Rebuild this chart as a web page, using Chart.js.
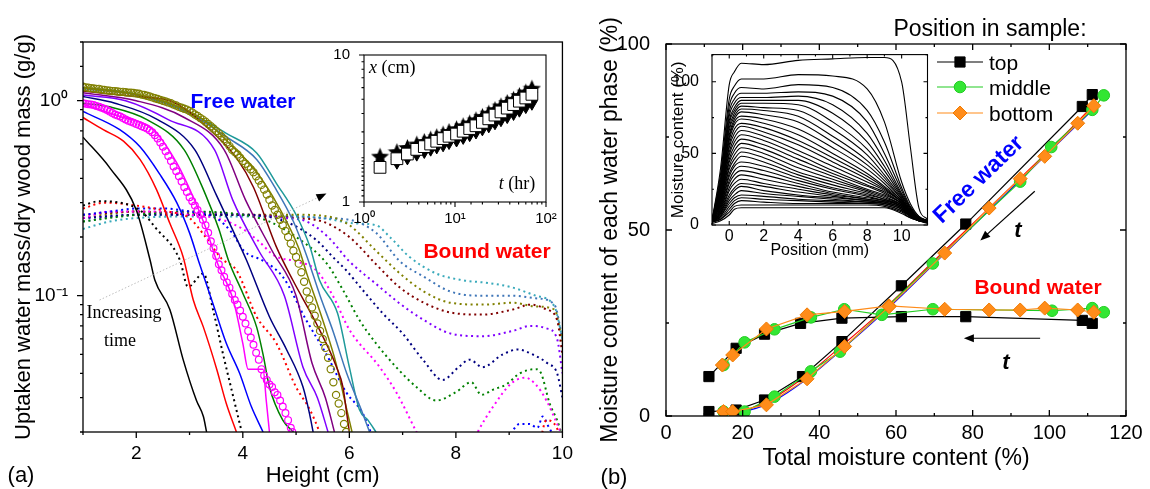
<!DOCTYPE html>
<html>
<head>
<meta charset="utf-8">
<script src="https://cdn.jsdelivr.net/npm/chart.js@4.4.0/dist/chart.umd.min.js"></script>
<style>
  body { margin: 0; background: #fff; width: 1150px; height: 489px; position: relative; overflow: hidden;
         font-family: "Liberation Sans", Arial, sans-serif; }
  canvas { position: absolute; }
  .lbl { position: absolute; white-space: nowrap; line-height: 1; transform: translate(-50%, -50%); }
  .left { transform: translate(0, -50%); }
  .serif { font-family: "Liberation Serif", "Times New Roman", serif; }
</style>
</head>
<body>
<canvas id="chartA" width="575" height="489" style="left:0;top:0"></canvas>
<canvas id="chartB" width="570" height="489" style="left:580px;top:0"></canvas>
<canvas id="insetA" width="230" height="190" style="left:330px;top:40px"></canvas>
<canvas id="insetB" width="280" height="230" style="left:660px;top:40px"></canvas>

<!-- panel (a) annotations -->
<div class="lbl" style="left:243px;top:100px;font-size:21px;font-weight:bold;color:#0000ff">Free water</div>
<div class="lbl" style="left:487px;top:250px;font-size:21px;font-weight:bold;color:#ff0000">Bound water</div>
<div class="lbl serif" style="left:124px;top:312px;font-size:18px">Increasing</div>
<div class="lbl serif" style="left:120px;top:340px;font-size:18px">time</div>
<div class="lbl" style="left:21px;top:475px;font-size:22px">(a)</div>
<div class="lbl left serif" style="left:369px;top:67px;font-size:18px"><i>x</i> (cm)</div>
<div class="lbl serif" style="left:517px;top:183px;font-size:18px"><i>t</i> (hr)</div>

<!-- panel (b) annotations -->
<div class="lbl" style="left:614px;top:477px;font-size:22px">(b)</div>
<div class="lbl" style="left:990px;top:28px;font-size:23px">Position in sample:</div>
<div class="lbl left" style="left:989px;top:62px;font-size:21px">top</div>
<div class="lbl left" style="left:989px;top:87px;font-size:21px">middle</div>
<div class="lbl left" style="left:989px;top:113px;font-size:21px">bottom</div>
<div class="lbl" style="left:978px;top:179px;font-size:23px;font-weight:bold;color:#0000ff;transform:translate(-50%,-50%) rotate(-44deg)">Free water</div>
<div class="lbl" style="left:1038px;top:286px;font-size:21px;font-weight:bold;color:#ff0000">Bound water</div>
<div class="lbl" style="left:1018px;top:230px;font-size:22px;font-weight:bold;font-style:italic">t</div>
<div class="lbl" style="left:1006px;top:362px;font-size:22px;font-weight:bold;font-style:italic">t</div>

<script>
// ---------- panel (a): free water (solid) ----------
const aFreeBlack   = [[1,0.65],[1.51,0.45],[2.0,0.275],[2.26,0.152],[2.35,0.12],[2.63,0.085],[2.88,0.047],[3.13,0.029],[3.26,0.024],[3.32,0.02]];
const aFreeRed     = [[1,0.82],[1.38,0.71],[1.76,0.62],[2.07,0.5],[2.38,0.35],[2.63,0.235],[2.88,0.158],[3.07,0.095],[3.26,0.069],[3.51,0.042],[3.69,0.028],[3.88,0.02]];
const aFreeBlue    = [[1,0.88],[1.69,0.71],[2.07,0.58],[2.44,0.42],[2.76,0.3],[3.0,0.21],[3.19,0.145],[3.44,0.091],[3.69,0.057],[3.94,0.04],[4.16,0.027],[4.38,0.02]];
const aFreeMagenta = [[1,0.96],[1.69,0.83],[2.32,0.71],[2.76,0.48],[3.07,0.32],[3.32,0.217],[3.51,0.15],[3.82,0.095],[4.0,0.057],[4.1,0.042],[4.38,0.042],[4.44,0.029],[4.5,0.02]];
const aFreeGreen   = [[1,0.97],[1.5,0.93],[2.2,0.8],[2.9,0.56],[3.3,0.33],[3.55,0.22],[3.73,0.152],[4.0,0.103],[4.26,0.069],[4.38,0.05],[4.5,0.034],[4.75,0.023],[4.95,0.02]];
const aFreeNavy    = [[1,1.05],[1.6,0.97],[2.4,0.8],[3.1,0.56],[3.5,0.33],[3.8,0.22],[4.07,0.152],[4.5,0.078],[4.82,0.053],[5.13,0.034],[5.25,0.025],[5.32,0.02]];
const aFreeViolet  = [[1,1.07],[1.8,1.0],[2.6,0.8],[3.47,0.56],[3.81,0.31],[4.3,0.17],[4.78,0.1],[5.13,0.043],[5.4,0.03],[5.6,0.02]];
const aFreePurple  = [[1,1.1],[2,1.0],[2.9,0.82],[3.65,0.56],[4.05,0.31],[4.55,0.17],[5.0,0.1],[5.3,0.045],[5.55,0.03],[5.72,0.02]];
const aFreeWine    = [[1,1.12],[2,1.05],[2.63,1.0],[3.38,0.71],[3.9,0.5],[4.2,0.36],[4.63,0.178],[4.94,0.12],[5.38,0.072],[5.76,0.043],[5.88,0.034],[5.95,0.025],[6.0,0.02]];
const aFreeOlive   = [[1,1.17],[2.0,1.08],[2.63,0.97],[3.26,0.8],[3.76,0.6],[4.26,0.43],[4.66,0.29],[5.05,0.175],[5.2,0.13],[5.5,0.075],[5.75,0.045],[5.9,0.03],[6.05,0.02]];
const aFreeRoyal   = [[1,1.15],[2,1.07],[3,0.86],[3.7,0.65],[4.26,0.5],[4.6,0.36],[4.95,0.24],[5.2,0.16],[5.45,0.1],[5.7,0.065],[5.95,0.04],[6.2,0.027],[6.38,0.02]];
const aFreeTeal    = [[1,1.17],[2,1.08],[3,0.87],[3.69,0.68],[4.26,0.54],[4.63,0.377],[5.0,0.26],[5.26,0.178],[5.44,0.12],[5.78,0.081],[6.0,0.043],[6.19,0.026],[6.35,0.023],[6.5,0.02]];

const aCircMagenta = [[1.00,0.97],[1.05,0.965],[1.10,0.96],[1.15,0.955],[1.20,0.95],[1.25,0.94],[1.30,0.93],[1.35,0.92],[1.40,0.91],[1.45,0.895],[1.50,0.88],[1.55,0.865],[1.60,0.85],[1.65,0.84],[1.70,0.83],[1.75,0.815],[1.80,0.80],[1.85,0.79],[1.90,0.78],[1.95,0.77],[2.00,0.76],[2.05,0.75],[2.10,0.74],[2.15,0.73],[2.20,0.72],[2.25,0.705],[2.30,0.69],[2.35,0.665],[2.40,0.64],[2.45,0.61],[2.50,0.58],[2.55,0.55],[2.60,0.52],[2.65,0.49],[2.70,0.46],[2.75,0.435],[2.80,0.41],[2.85,0.385],[2.90,0.36],[2.95,0.34],[3.00,0.32],[3.05,0.305],[3.10,0.29],[3.15,0.275],[3.20,0.26],[3.25,0.245],[3.30,0.23],[3.35,0.21],[3.40,0.19],[3.45,0.175],[3.50,0.16],[3.55,0.145],[3.60,0.135],[3.65,0.125],[3.70,0.117],[3.75,0.11],[3.80,0.102],[3.85,0.095],[3.90,0.09],[3.95,0.084],[4.00,0.078],[4.05,0.072],[4.10,0.066],[4.15,0.061],[4.20,0.056],[4.25,0.051],[4.30,0.047],[4.35,0.042],[4.40,0.039],[4.45,0.037],[4.50,0.035],[4.55,0.034],[4.60,0.032],[4.65,0.031],[4.70,0.029],[4.75,0.027],[4.80,0.025],[4.85,0.023],[4.90,0.021],[4.93,0.02]];
const aCircOlive   = [[1.00,1.18],[1.05,1.17],[1.10,1.165],[1.15,1.16],[1.20,1.155],[1.25,1.15],[1.30,1.15],[1.35,1.14],[1.40,1.135],[1.45,1.13],[1.50,1.125],[1.55,1.12],[1.60,1.12],[1.65,1.115],[1.70,1.11],[1.75,1.11],[1.80,1.105],[1.85,1.10],[1.90,1.10],[1.95,1.095],[2.00,1.09],[2.05,1.085],[2.10,1.075],[2.15,1.07],[2.20,1.06],[2.25,1.05],[2.30,1.04],[2.35,1.03],[2.40,1.02],[2.45,1.01],[2.50,1.0],[2.55,0.99],[2.60,0.98],[2.65,0.97],[2.70,0.955],[2.75,0.945],[2.80,0.93],[2.85,0.92],[2.90,0.91],[2.95,0.90],[3.00,0.885],[3.05,0.87],[3.10,0.85],[3.15,0.835],[3.20,0.815],[3.25,0.80],[3.30,0.78],[3.35,0.76],[3.40,0.74],[3.45,0.72],[3.50,0.70],[3.55,0.68],[3.60,0.655],[3.65,0.635],[3.70,0.61],[3.75,0.585],[3.80,0.56],[3.85,0.545],[3.90,0.53],[3.95,0.51],[4.00,0.49],[4.05,0.475],[4.10,0.46],[4.15,0.445],[4.20,0.43],[4.25,0.41],[4.30,0.39],[4.35,0.37],[4.40,0.35],[4.45,0.33],[4.50,0.31],[4.55,0.29],[4.60,0.275],[4.65,0.26],[4.70,0.245],[4.75,0.23],[4.80,0.215],[4.85,0.2],[4.90,0.185],[4.95,0.17],[5.00,0.158],[5.05,0.146],[5.10,0.132],[5.15,0.118],[5.20,0.105],[5.25,0.096],[5.30,0.087],[5.35,0.079],[5.40,0.072],[5.45,0.066],[5.50,0.06],[5.55,0.054],[5.60,0.048],[5.65,0.042],[5.70,0.036],[5.75,0.031],[5.80,0.028],[5.85,0.025],[5.90,0.022],[5.94,0.02]];

// ---------- panel (a): bound water (dotted) ----------
const aBoundBlack   = [[1,0.29],[1.3,0.305],[1.7,0.3],[2.1,0.27],[2.35,0.225],[2.82,0.152],[2.97,0.111],[3.26,0.13],[3.44,0.085],[3.63,0.05],[3.8,0.032],[3.98,0.02]];
const aBoundRed     = [[1,0.28],[1.4,0.3],[2,0.29],[2.6,0.27],[3.0,0.25],[3.3,0.2],[3.6,0.155],[3.88,0.135],[4.26,0.078],[4.63,0.057],[5.0,0.034],[5.26,0.026],[5.44,0.02],[5.6,0.015],[9.5,0.015],[9.7,0.023],[9.85,0.022],[10,0.018]];
const aBoundBlue    = [[1,0.26],[1.5,0.27],[2,0.28],[2.5,0.28],[3,0.27],[3.5,0.25],[3.8,0.21],[4.02,0.17],[4.4,0.15],[4.75,0.125],[5.19,0.075],[5.57,0.05],[5.94,0.032],[6.25,0.025],[6.4,0.02],[6.6,0.015],[8.9,0.015],[9.06,0.02],[9.2,0.022],[9.38,0.022],[9.53,0.021],[9.63,0.024],[9.75,0.021],[9.9,0.018]];
const aBoundMagenta = [[1,0.25],[1.5,0.27],[2,0.27],[2.5,0.27],[3,0.26],[3.5,0.25],[4.0,0.22],[4.3,0.19],[4.6,0.16],[5.0,0.15],[5.38,0.135],[5.69,0.1],[6.0,0.067],[6.57,0.043],[6.88,0.032],[7.26,0.02],[7.5,0.015],[8.2,0.015],[8.41,0.02],[8.7,0.027],[9.04,0.0355],[9.3,0.038],[9.5,0.035],[9.7,0.029],[9.9,0.022],[10,0.019]];
const aBoundGreen   = [[1,0.24],[2,0.26],[3,0.27],[4,0.26],[4.5,0.24],[5.0,0.2],[5.57,0.147],[5.88,0.107],[6.19,0.075],[6.5,0.057],[6.88,0.043],[7.26,0.034],[7.63,0.029],[8.0,0.032],[8.29,0.036],[8.48,0.031],[8.7,0.033],[8.94,0.035],[9.2,0.04],[9.5,0.042],[9.6,0.04],[9.76,0.028],[9.9,0.023],[10,0.019]];
const aBoundNavy    = [[1,0.25],[2,0.26],[3,0.26],[4,0.26],[4.8,0.24],[5.38,0.193],[5.69,0.158],[5.94,0.135],[6.25,0.107],[6.63,0.081],[7.0,0.064],[7.38,0.047],[7.75,0.037],[8.05,0.043],[8.26,0.047],[8.5,0.043],[8.88,0.05],[9.16,0.053],[9.44,0.05],[9.72,0.045],[9.9,0.04],[10,0.03]];
const aBoundViolet  = [[1,0.25],[2,0.26],[3,0.27],[4,0.26],[4.8,0.25],[5.2,0.24],[5.6,0.2],[6.0,0.15],[6.5,0.115],[6.95,0.091],[7.4,0.075],[7.9,0.064],[8.5,0.062],[9.07,0.066],[9.4,0.07],[9.7,0.068],[9.9,0.06],[10,0.04]];
const aBoundWine    = [[1,0.26],[2,0.27],[3,0.26],[4,0.26],[5,0.25],[5.5,0.24],[6.0,0.2],[6.5,0.145],[6.95,0.11],[7.4,0.092],[7.9,0.082],[8.5,0.08],[9.07,0.085],[9.4,0.09],[9.7,0.085],[9.9,0.075],[10,0.05]];
const aBoundOlive   = [[1,0.25],[2,0.27],[3,0.265],[4,0.26],[5,0.26],[5.6,0.255],[6.0,0.23],[6.5,0.17],[6.95,0.13],[7.4,0.105],[7.9,0.092],[8.5,0.09],[9.07,0.092],[9.5,0.088],[9.85,0.085],[10,0.058]];
const aBoundRoyal   = [[1,0.24],[2,0.26],[3,0.26],[4,0.26],[5,0.255],[5.5,0.25],[6.0,0.245],[6.5,0.21],[6.95,0.15],[7.4,0.125],[7.9,0.105],[8.5,0.1],[9.07,0.1],[9.5,0.097],[9.85,0.09],[10,0.06]];
const aBoundTeal    = [[1,0.22],[1.5,0.24],[2,0.25],[3,0.255],[4,0.255],[5,0.255],[5.5,0.25],[6.1,0.235],[6.5,0.23],[6.76,0.2],[7.13,0.158],[7.63,0.13],[8.13,0.12],[8.63,0.116],[9.07,0.11],[9.5,0.1],[9.85,0.088],[10,0.06]];

const aXTickValues = [2, 4, 6, 8, 10];
const aYTickValues = [0.1, 1];
const aYTickLabels = ['10\u207B\u00B9', '10\u2070'];

// ---------- inset of (a): front position vs time ----------
const insetTime    = [1.5,2.3,3.0,3.8,4.6,5.4,6.3,7.4,8.6,10.4,12.3,14.5,17,20,23.5,27.5,32,37.5,44,51,60,70];
const insetSquares = [1.72,1.97,2.12,2.28,2.38,2.48,2.59,2.7,2.8,2.9,3.03,3.16,3.3,3.48,3.68,3.9,4.1,4.35,4.6,4.85,5.1,5.4];
const insetStars   = [2.05,2.2,2.35,2.48,2.58,2.68,2.78,2.9,3.02,3.15,3.3,3.45,3.62,3.82,4.02,4.25,4.5,4.75,5.0,5.3,5.6,5.95];
const insetUpTri   = [null,2.12,2.28,2.42,2.52,2.62,2.72,2.84,2.96,3.1,3.24,3.4,3.56,3.75,3.95,4.17,4.4,4.65,4.9,5.2,5.5,5.85];
const insetDownTri = [null,1.85,1.98,2.1,2.19,2.27,2.35,2.43,2.52,2.62,2.73,2.85,2.97,3.12,3.27,3.43,3.6,3.78,3.97,4.18,4.42,4.66];
const insetXTickValues = [1, 10, 100];
const insetXTickLabels = ['10\u2070', '10\u00B9', '10\u00B2'];
const insetYTickValues = [1, 10];
const insetYTickLabels = ['1', '10'];

// ---------- panel (b) ----------
const bFreeTop    = [[11.2,1.2],[18.3,1.6],[25.7,4.3],[35.6,10.6],[45.9,20],[61.4,35],[78.2,51.6],[108.6,83.2],[111.2,86.4]];
const bFreeMid    = [[15,1.2],[20.5,1.2],[28.3,5.2],[37.8,12],[45.4,17.3],[69.6,41],[92.4,63],[100.5,72.3],[111.2,82.3],[114.2,86.2]];
const bFreeBot    = [[15,1.2],[17.4,1.2],[26.2,3],[36.8,10],[46.6,18.7],[58.2,29.4],[72.7,43.8],[84.3,55.9],[92.4,63.8],[98.8,69.8],[107.4,78.7],[111.6,83.4]];
const bBoundTop   = [[11.2,10.6],[18.3,18.2],[25.7,22],[35.1,24.9],[45.9,26.3],[61.4,26.7],[78.2,26.7],[108.6,25.7],[111.2,24.9]];
const bBoundMid   = [[15,13.7],[20.5,19.8],[28.3,23.3],[37.8,26.5],[46.5,28.7],[56.3,27.2],[69.6,28.7],[100.7,28.3],[111.2,29],[114.2,27.9]];
const bBoundBot   = [[14.7,13.7],[17.4,16.4],[26.2,23.4],[36.8,27.2],[46.6,28.1],[58.2,29.6],[72.7,28.7],[84.3,28.5],[92.4,28.5],[98.8,29],[107.4,28.5],[111.6,27.9]];
const bFitBlue    = [[17,0.6],[22,1.6],[28,4],[36,9.4],[46,18],[58,29],[70,41],[85,56],[100,71],[112,83]];
const bFitRed     = [[17,0.9],[22,2],[28,4.8],[36,10.4],[46,19],[58,29.8],[70,41.8],[85,56.6],[100,71.5],[112,84]];
const bXTickValues = [0, 20, 40, 60, 80, 100, 120];
const bYTickValues = [0, 50, 100];

// ---------- inset of (b): moisture profiles ----------
const profilePositions = [-1,-0.5,0,0.3,0.7,2,4,6,8,9,10,10.5,11,11.5];
const profileValues = [
  [3,40,98,107,113,112,115,116,117,117,100,55,12,4],
  [3,36,88,97,102,102,105,104,95,72,30,15,6,3],
  [3,33,83,92,96,95,98,96,80,58,26,13,6,3],
  [3,31,79,88,92,92,93,90,72,50,24,12,5,3],
  [3,29,76,85,89,89,90,84,64,45,22,12,5,3],
  [3,28,73,82,87,87,87,78,58,41,21,11,5,3],
  [3,27,71,80,85,85,84,72,53,38,20,11,5,3],
  [3,26,68,78,83,82,80,67,49,35,19,10,5,3],
  [3,25,66,76,81,80,76,62,45,33,18,10,5,3],
  [3,24,63,74,79,77,72,58,42,31,18,10,5,3],
  [3,23,61,72,76,74,67,54,39,29,17,10,5,3],
  [3,22,59,70,74,71,63,50,36,27,17,9,5,3],
  [3,21,56,67,71,68,59,47,34,26,16,9,5,3],
  [3,20,54,64,69,65,56,44,32,25,16,9,5,3],
  [3,19,51,61,66,62,52,41,30,24,16,9,4,3],
  [3,18,49,58,63,59,49,38,28,23,15,9,4,3],
  [3,17,46,55,60,56,46,36,27,22,15,9,4,2],
  [3,16,44,52,57,53,43,34,25,21,15,8,4,2],
  [3,15,41,49,54,50,40,32,24,20,14,8,4,2],
  [3,14,39,46,51,47,37,30,23,19,14,8,4,2],
  [2,13,36,43,48,44,35,28,22,18,14,8,4,2],
  [2,12,34,41,44,41,33,26,21,18,13,8,4,2],
  [2,11,31,38,41,38,31,25,20,17,13,8,4,2],
  [2,10,29,35,38,35,29,23,19,17,13,7,4,2],
  [2,9,26,32,35,32,27,22,18,16,12,7,4,2],
  [2,8,24,29,32,29,25,21,18,16,12,7,3,2],
  [2,8,21,26,29,27,23,20,17,16,12,7,3,2],
  [2,7,19,24,27,24,21,19,17,15,11,7,3,2],
  [2,6,17,21,24,22,20,18,16,15,11,6,3,2],
  [2,6,15,19,21,20,18,17,16,15,11,6,3,2],
  [2,5,13,17,19,18,17,16,15,14,10,6,3,2],
  [2,4,11,15,17,16,15,15,15,14,10,6,3,2],
  [2,4,9,13,14,14,14,14,14,13,9,5,3,2],
  [1,3,7,11,12,12,12,12,12,12,8,5,3,1]
];
const profileXTickValues = [0, 2, 4, 6, 8, 10];
const profileYTickValues = [0, 50, 100];

// ---------- helpers ----------
Chart.defaults.font.family = '"Liberation Sans", Arial, sans-serif';
Chart.defaults.color = '#000';
Chart.defaults.animation = false;

const xy = arr => arr.map(p => ({x: p[0], y: p[1]}));
const near = (a, b) => Math.abs(a - b) < 1e-9 * Math.max(1, Math.abs(a));
const pick = (values, labels) => v => {
  const i = values.findIndex(t => near(t, v));
  return i < 0 ? '' : (labels ? labels[i] : String(values[i]));
};

// frame box + tick marks drawn by hand (inward or outward)
function frameTicks(cfg) {
  return {
    id: 'frameTicks',
    beforeDatasetsDraw(chart) {
      if (!cfg.fill) return;
      const {ctx, chartArea: a} = chart;
      ctx.save();
      ctx.fillStyle = '#fff';
      ctx.fillRect(a.left, a.top, a.right - a.left, a.bottom - a.top);
      ctx.restore();
    },
    afterDatasetsDraw(chart) {
      const {ctx, chartArea: a} = chart;
      const dir = cfg.inward ? 1 : -1;
      const isMajor = (scale, v) => {
        if (scale.type === 'logarithmic') {
          const l = Math.log10(v);
          return Math.abs(l - Math.round(l)) < 1e-6;
        }
        const s = cfg.step[scale.axis];
        return Math.abs(v / s - Math.round(v / s)) < 1e-6;
      };
      ctx.save();
      ctx.strokeStyle = '#000';
      ctx.lineWidth = cfg.width || 1.3;
      ctx.strokeRect(a.left, a.top, a.right - a.left, a.bottom - a.top);
      ctx.beginPath();
      ['x', 'y'].forEach(id => {
        const scale = chart.scales[id];
        scale.ticks.forEach(t => {
          const p = scale.getPixelForValue(t.value);
          const len = isMajor(scale, t.value) ? cfg.major : cfg.minor;
          if (id === 'x') {
            if (p < a.left - 0.5 || p > a.right + 0.5) return;
            ctx.moveTo(p, a.bottom); ctx.lineTo(p, a.bottom - dir * len);
            if (cfg.mirror) { ctx.moveTo(p, a.top); ctx.lineTo(p, a.top + dir * len); }
          } else {
            if (p < a.top - 0.5 || p > a.bottom + 0.5) return;
            ctx.moveTo(a.left, p); ctx.lineTo(a.left + dir * len, p);
            if (cfg.mirror) { ctx.moveTo(a.right, p); ctx.lineTo(a.right - dir * len, p); }
          }
        });
      });
      ctx.stroke();
      ctx.restore();
    }
  };
}

// arrows given in data units
function arrows(list) {
  return {
    id: 'arrows',
    afterDatasetsDraw(chart) {
      const {ctx, scales: {x, y}} = chart;
      list.forEach(ar => {
        const x0 = x.getPixelForValue(ar.from[0]), y0 = y.getPixelForValue(ar.from[1]);
        const x1 = x.getPixelForValue(ar.to[0]), y1 = y.getPixelForValue(ar.to[1]);
        const ang = Math.atan2(y1 - y0, x1 - x0);
        ctx.save();
        ctx.strokeStyle = ar.color;
        ctx.lineWidth = ar.width;
        ctx.setLineDash(ar.dash || []);
        ctx.beginPath();
        ctx.moveTo(x0, y0);
        ctx.lineTo(x1 - Math.cos(ang) * ar.head * 0.6, y1 - Math.sin(ang) * ar.head * 0.6);
        ctx.stroke();
        ctx.setLineDash([]);
        ctx.fillStyle = '#000';
        ctx.beginPath();
        ctx.moveTo(x1, y1);
        ctx.lineTo(x1 - Math.cos(ang) * ar.head + Math.sin(ang) * ar.head * 0.4,
                   y1 - Math.sin(ang) * ar.head - Math.cos(ang) * ar.head * 0.4);
        ctx.lineTo(x1 - Math.cos(ang) * ar.head - Math.sin(ang) * ar.head * 0.4,
                   y1 - Math.sin(ang) * ar.head + Math.cos(ang) * ar.head * 0.4);
        ctx.closePath();
        ctx.fill();
        ctx.restore();
      });
    }
  };
}

// legend of panel (b), drawn inside the plot
function sampleLegend(items) {
  return {
    id: 'sampleLegend',
    afterDatasetsDraw(chart) {
      const {ctx} = chart;
      items.forEach(it => {
        const ds = chart.data.datasets[it.dataset];
        ctx.save();
        ctx.strokeStyle = ds.borderColor;
        ctx.lineWidth = 1.2;
        ctx.beginPath();
        ctx.moveTo(it.x0, it.y); ctx.lineTo(it.x1, it.y);
        ctx.stroke();
        ctx.fillStyle = ds.pointBackgroundColor;
        ctx.strokeStyle = ds.pointBorderColor;
        ctx.lineWidth = 1;
        Chart.helpers.drawPoint(ctx, {pointStyle: ds.pointStyle, radius: ds.pointRadius, rotation: 0, borderWidth: 1},
                                (it.x0 + it.x1) / 2, it.y);
        ctx.restore();
      });
    }
  };
}

function makeStar(size) {
  const c = document.createElement('canvas');
  c.width = c.height = size;
  const g = c.getContext('2d');
  const R = size / 2, r = R * 0.45;
  g.beginPath();
  for (let i = 0; i < 10; i++) {
    const ang = -Math.PI / 2 + i * Math.PI / 5;
    const rr = i % 2 ? r : R;
    g.lineTo(R + rr * Math.cos(ang), R + rr * Math.sin(ang) + 1);
  }
  g.closePath();
  g.fillStyle = '#000';
  g.fill();
  return c;
}

// ---------- chart (a) ----------
const solidSeries = [
  [aFreeBlack, '#000000'], [aFreeRed, '#ff0000'], [aFreeBlue, '#0000ff'], [aFreeMagenta, '#ff00ff'],
  [aFreeGreen, '#008000'], [aFreeNavy, '#000080'], [aFreeViolet, '#8000ff'], [aFreePurple, '#800080'],
  [aFreeWine, '#800000'], [aFreeOlive, '#808000'], [aFreeRoyal, '#3f76b8'], [aFreeTeal, '#1f9a9a']
];
const dottedSeries = [
  [aBoundBlack, '#000000'], [aBoundRed, '#ff0000'], [aBoundBlue, '#0000ff'], [aBoundMagenta, '#ff00ff'],
  [aBoundGreen, '#008000'], [aBoundNavy, '#000080'], [aBoundViolet, '#8000ff'], [aBoundWine, '#800000'],
  [aBoundOlive, '#808000'], [aBoundRoyal, '#3f76b8'], [aBoundTeal, '#3aaabb']
];

const aDatasets = [
  {data: xy(aCircOlive), showLine: false, pointStyle: 'circle', pointRadius: 3.6, borderWidth: 1.2,
   pointBorderColor: '#808000', pointBackgroundColor: 'rgba(0,0,0,0)', borderColor: '#808000'},
  {data: xy(aCircMagenta), showLine: false, pointStyle: 'circle', pointRadius: 3.4, borderWidth: 1.2,
   pointBorderColor: '#ff00ff', pointBackgroundColor: 'rgba(0,0,0,0)', borderColor: '#ff00ff'}
];
solidSeries.forEach(([d, c]) => aDatasets.push({data: xy(d), borderColor: c, borderWidth: 1.5, pointRadius: 0,
  cubicInterpolationMode: 'monotone'}));
dottedSeries.forEach(([d, c]) => aDatasets.push({data: xy(d), borderColor: c, borderWidth: 2, borderDash: [2, 3.5],
  pointRadius: 0, cubicInterpolationMode: 'monotone'}));

new Chart(document.getElementById('chartA'), {
  type: 'line',
  data: {datasets: aDatasets},
  options: {
    responsive: false, devicePixelRatio: 1,
    layout: {padding: {left: 0, top: 42, right: 12, bottom: 0}},
    plugins: {legend: {display: false}, tooltip: {enabled: false}},
    scales: {
      x: {
        type: 'linear', min: 1, max: 10,
        afterFit: s => { s.height = 57; },
        grid: {display: false}, border: {display: false},
        ticks: {stepSize: 1, autoSkip: false, maxRotation: 0, padding: 2, font: {size: 19}, callback: pick(aXTickValues)},
        title: {display: true, text: 'Height (cm)', font: {size: 22}, padding: {top: 0, bottom: 0}}
      },
      y: {
        type: 'logarithmic', min: 0.02, max: 2,
        afterFit: s => { s.width = 83; },
        grid: {display: false}, border: {display: false},
        ticks: {autoSkip: false, padding: 7, font: {size: 19}, callback: pick(aYTickValues, aYTickLabels)},
        title: {display: true, text: 'Uptaken water mass/dry wood mass (g/g)', font: {size: 22}, padding: {top: 11, bottom: 0}}
      }
    }
  },
  plugins: [
    frameTicks({inward: false, mirror: false, major: 6, minor: 3, step: {x: 2}}),
    arrows([{from: [1.31, 0.095], to: [5.57, 0.334], color: '#bdbdbd', width: 1, dash: [1.5, 2], head: 10}])
  ]
});

// ---------- inset (a) ----------
const starImg = makeStar(19);
const tPairs = ys => insetTime.map((t, i) => ({x: t, y: ys[i]}));
new Chart(document.getElementById('insetA'), {
  type: 'line',
  data: {datasets: [
    {data: tPairs(insetSquares), showLine: false, pointStyle: 'rect', pointRadius: 8.3, borderWidth: 1,
     pointBackgroundColor: '#fff', pointBorderColor: '#000'},
    {data: tPairs(insetStars), showLine: false, pointStyle: starImg, pointRadius: 9},
    {data: tPairs(insetUpTri), showLine: false, pointStyle: 'triangle', pointRadius: 6.5, borderWidth: 1,
     pointBackgroundColor: '#000', pointBorderColor: '#000'},
    {data: tPairs(insetDownTri), showLine: false, pointStyle: 'triangle', pointRotation: 180, pointRadius: 6.5, borderWidth: 1,
     pointBackgroundColor: '#000', pointBorderColor: '#000'}
  ]},
  options: {
    responsive: false, devicePixelRatio: 1,
    layout: {padding: {left: 0, top: 12, right: 14, bottom: 0}},
    plugins: {legend: {display: false}, tooltip: {enabled: false}},
    scales: {
      x: {
        type: 'logarithmic', min: 1, max: 100,
        afterFit: s => { s.height = 28; },
        grid: {display: false}, border: {display: false},
        ticks: {autoSkip: false, maxRotation: 0, padding: 0, font: {size: 15}, callback: pick(insetXTickValues, insetXTickLabels)}
      },
      y: {
        type: 'logarithmic', min: 1, max: 10,
        afterFit: s => { s.width = 34; },
        grid: {display: false}, border: {display: false},
        ticks: {autoSkip: false, padding: 6, font: {size: 15}, callback: pick(insetYTickValues, insetYTickLabels)}
      }
    }
  },
  plugins: [frameTicks({fill: true, inward: false, mirror: false, major: 5, minor: 2.5, width: 1.1})]
});

// ---------- chart (b) ----------
const orange = '#ff8c1a', green = '#33e633';
new Chart(document.getElementById('chartB'), {
  type: 'line',
  data: {datasets: [
    {data: xy(bFreeBot), borderColor: orange, borderWidth: 1.2, pointStyle: 'rectRot', pointRadius: 7,
     pointBackgroundColor: orange, pointBorderColor: '#f07a00', pointBorderWidth: 1},
    {data: xy(bBoundBot), borderColor: orange, borderWidth: 1.2, pointStyle: 'rectRot', pointRadius: 7,
     pointBackgroundColor: orange, pointBorderColor: '#f07a00', pointBorderWidth: 1},
    {data: xy(bFreeMid), borderColor: '#22cc22', borderWidth: 1.2, pointStyle: 'circle', pointRadius: 5.8,
     pointBackgroundColor: green, pointBorderColor: '#22cc22', pointBorderWidth: 1},
    {data: xy(bBoundMid), borderColor: '#22cc22', borderWidth: 1.2, pointStyle: 'circle', pointRadius: 5.8,
     pointBackgroundColor: green, pointBorderColor: '#22cc22', pointBorderWidth: 1},
    {data: xy(bFreeTop), borderColor: '#000', borderWidth: 1.2, pointStyle: 'rect', pointRadius: 7.2,
     pointBackgroundColor: '#000', pointBorderColor: '#000', pointBorderWidth: 1},
    {data: xy(bBoundTop), borderColor: '#000', borderWidth: 1.2, pointStyle: 'rect', pointRadius: 7.2,
     pointBackgroundColor: '#000', pointBorderColor: '#000', pointBorderWidth: 1},
    {data: xy(bFitRed), borderColor: '#ff0000', borderWidth: 1.2, pointRadius: 0, cubicInterpolationMode: 'monotone'},
    {data: xy(bFitBlue), borderColor: '#0000ff', borderWidth: 1.2, pointRadius: 0, cubicInterpolationMode: 'monotone'}
  ]},
  options: {
    responsive: false, devicePixelRatio: 1,
    layout: {padding: {left: 0, top: 44, right: 24, bottom: 0}},
    plugins: {legend: {display: false}, tooltip: {enabled: false}},
    scales: {
      x: {
        type: 'linear', min: 0, max: 120,
        afterFit: s => { s.height = 73; },
        grid: {display: false}, border: {display: false},
        ticks: {stepSize: 10, autoSkip: false, maxRotation: 0, padding: -3, font: {size: 20}, callback: pick(bXTickValues)},
        title: {display: true, text: 'Total moisture content (%)', font: {size: 23}, padding: {top: 0, bottom: 17}}
      },
      y: {
        type: 'linear', min: 0, max: 100,
        afterFit: s => { s.width = 86; },
        grid: {display: false}, border: {display: false},
        ticks: {stepSize: 25, autoSkip: false, padding: 8, font: {size: 20}, callback: pick(bYTickValues)},
        title: {display: true, text: 'Moisture content of each water phase (%)', font: {size: 23}, padding: {top: 17, bottom: 0}}
      }
    }
  },
  plugins: [
    frameTicks({inward: true, mirror: true, major: 6, minor: 3, step: {x: 20, y: 50}}),
    arrows([
      {from: [96.2, 60.4], to: [82.0, 47.2], color: '#000', width: 1.2, head: 10},
      {from: [97.6, 20.9], to: [77.7, 20.9], color: '#000', width: 1.2, head: 10}
    ]),
    sampleLegend([
      {dataset: 4, x0: 357, x1: 403, y: 62},
      {dataset: 2, x0: 357, x1: 403, y: 87},
      {dataset: 0, x0: 357, x1: 403, y: 113}
    ])
  ]
});

// ---------- inset (b) ----------
new Chart(document.getElementById('insetB'), {
  type: 'line',
  data: {datasets: profileValues.map(vals => ({
    data: profilePositions.map((p, i) => ({x: p, y: vals[i]})),
    borderColor: '#000', borderWidth: 1.1, pointRadius: 0, cubicInterpolationMode: 'monotone'
  }))},
  options: {
    responsive: false, devicePixelRatio: 1,
    layout: {padding: {left: 0, top: 12, right: 12.5, bottom: 0}},
    plugins: {legend: {display: false}, tooltip: {enabled: false}},
    scales: {
      x: {
        type: 'linear', min: -1, max: 11.5,
        afterFit: s => { s.height = 45; },
        grid: {display: false}, border: {display: false},
        ticks: {stepSize: 1, autoSkip: false, maxRotation: 0, padding: -6, font: {size: 16}, callback: pick(profileXTickValues)},
        title: {display: true, text: 'Position (mm)', font: {size: 16}, padding: {top: 0, bottom: 10}}
      },
      y: {
        type: 'linear', min: 0, max: 119,
        afterFit: s => { s.width = 52; },
        grid: {display: false}, border: {display: false},
        ticks: {stepSize: 25, autoSkip: false, padding: 5, font: {size: 16}, callback: pick(profileYTickValues)},
        title: {display: true, text: 'Moisture content (%)', font: {size: 17}, padding: {top: 8, bottom: 0}}
      }
    }
  },
  plugins: [frameTicks({fill: true, inward: true, mirror: true, major: 4, minor: 2, width: 1.1, step: {x: 2, y: 50}})]
});
</script>
</body>
</html>
